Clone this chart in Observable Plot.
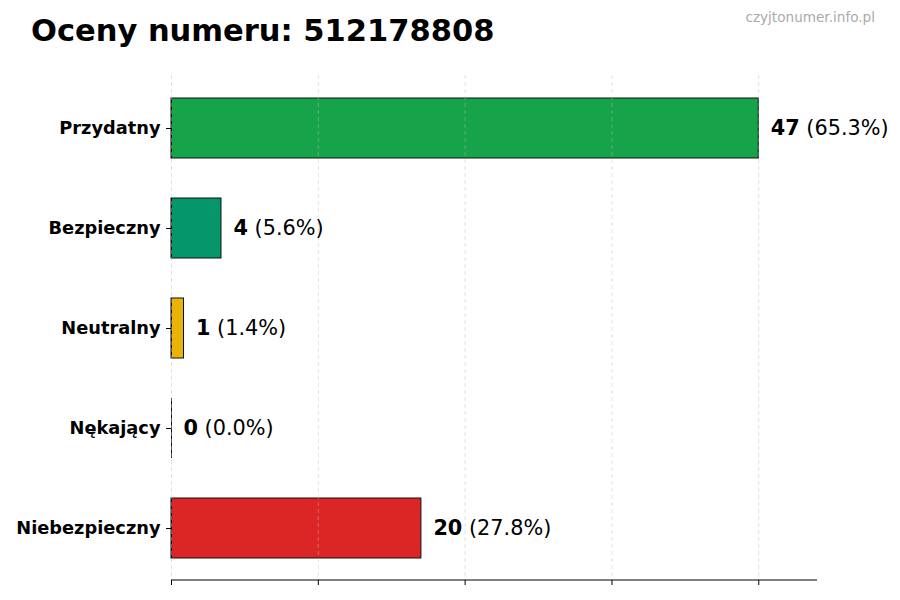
<!DOCTYPE html>
<html>
<head>
<meta charset="utf-8">
<script src="https://cdn.jsdelivr.net/npm/d3@7"></script>
<script src="https://cdn.jsdelivr.net/npm/@observablehq/plot@0.6"></script>
<style>
  html, body { margin: 0; padding: 0; background: #fff; }
  #wrap { position: relative; width: 900px; height: 600px; font-family: "DejaVu Sans", sans-serif; }
  #title { position: absolute; left: 31px; top: 12px; font-size: 30.5px; font-weight: bold; color: #000; white-space: nowrap; line-height: 38px; }
  #mark { position: absolute; right: 25px; top: 8px; font-size: 13.6px; color: #aaaaaa; white-space: nowrap; line-height: 18px; }
  #chart { position: absolute; left: 0; top: 0; }
</style>
</head>
<body>
<div id="wrap">
  <div id="chart"></div>
  <div id="title">Oceny numeru: 512178808</div>
  <div id="mark">czyjtonumer.info.pl</div>
</div>
<script>
const categories = ["Przydatny", "Bezpieczny", "Neutralny", "Nękający", "Niebezpieczny"];
const counts = [47, 4, 1, 0, 20];
const colors = ["#16a34a", "#059669", "#eab308", "#f97316", "#dc2626"];
const xTicks = [0, 11.75, 23.5, 35.25, 47];

const total = d3.sum(counts);
const data = categories.map((c, i) => ({
  cat: c,
  n: counts[i],
  color: colors[i],
  pct: (total ? counts[i] / total * 100 : 0).toFixed(1) + "%"
}));
const xMax = d3.max(counts) * 1.1;

const chart = Plot.plot({
  width: 900,
  height: 600,
  marginLeft: 171,
  marginRight: 83,
  marginTop: 75,
  marginBottom: 20,
  style: { fontFamily: "DejaVu Sans, sans-serif", background: "transparent" },
  x: { domain: [0, xMax], ticks: xTicks, tickFormat: () => "", tickSize: 5, label: null },
  y: { domain: categories, paddingInner: 0.4, paddingOuter: 0.225, label: null, tickSize: 5, tickPadding: 6 },
  marks: [
    Plot.barX(data, { x: "n", y: "cat", fill: "color", stroke: "#111", strokeWidth: 1 }),
    Plot.tickX(data, { x: 0, y: "cat", stroke: "#111", strokeWidth: 1 }),
    Plot.ruleX(xTicks, { stroke: "#bbbbbb", strokeOpacity: 0.55, strokeWidth: 0.8, strokeDasharray: "4,3" }),
    Plot.text(data, { x: "n", y: "cat", text: d => `${d.n} (${d.pct})`, dx: 12, textAnchor: "start", fontSize: 20.8, fill: "#000" })
  ]
});
document.getElementById("chart").appendChild(chart);

const svg = d3.select(chart);
svg.selectAll('g[aria-label="y-axis tick label"] text')
  .attr("font-size", 17.8).attr("font-weight", "bold").attr("fill", "#000");
svg.selectAll('g[aria-label="y-axis tick"] path').attr("stroke", "#000");
svg.selectAll('g[aria-label="x-axis tick"] path').attr("stroke", "#000");

// Bottom axis line (spine) through the x scale
const xs = chart.scale("x");
svg.append("line")
  .attr("x1", xs.apply(0)).attr("x2", xs.apply(xMax))
  .attr("y1", 600 - 20).attr("y2", 600 - 20)
  .attr("stroke", "#000").attr("stroke-width", 1);

// Value labels: bold count, regular percentage
svg.selectAll('g[aria-label="text"] text').each(function(_, i) {
  const d = data[i];
  const t = d3.select(this);
  t.text(null);
  t.append("tspan").attr("font-weight", "bold").text(String(d.n));
  t.append("tspan").attr("font-weight", "normal").text(` (${d.pct})`);
});
</script>
</body>
</html>
